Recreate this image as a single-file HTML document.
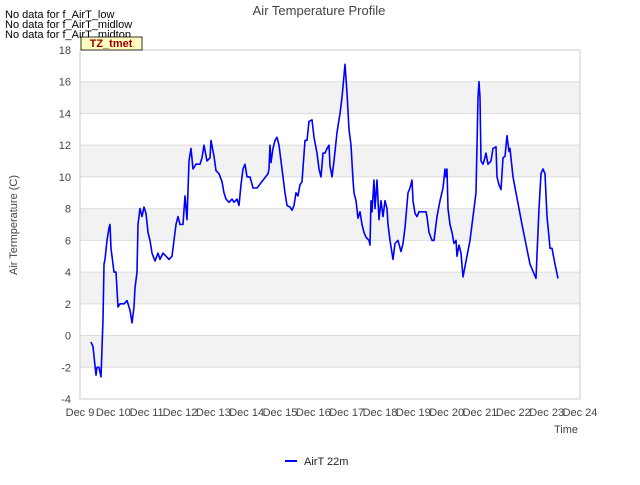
<!DOCTYPE html>
<html><head><meta charset="utf-8"><style>
body{margin:0;background:#fff;font-family:"Liberation Sans","DejaVu Sans",sans-serif}
</style></head><body>
<svg width="640" height="480" xmlns="http://www.w3.org/2000/svg" font-family="Liberation Sans, DejaVu Sans, sans-serif">
<g id="bands"></g>
<g id="grid"></g>
<rect x="80" y="50" width="500" height="349" fill="none" stroke="#ccc"/>
<g id="yt" font-size="11" fill="#444" text-anchor="end"></g>
<g id="xt" font-size="11" fill="#444" text-anchor="middle"></g>
<path id="line" fill="none" stroke="#0000ff" stroke-width="1.6" stroke-linejoin="round"/>
<text x="319" y="15" text-anchor="middle" font-size="13" fill="#444">Air Temperature Profile</text>
<text transform="translate(17,225) rotate(-90)" text-anchor="middle" font-size="11" fill="#444">Air Termperature (C)</text>
<text x="578" y="433" text-anchor="end" font-size="11" fill="#444">Time</text>
<text x="5" y="18" font-size="11" fill="#000">No data for f_AirT_low</text>
<text x="5" y="28" font-size="11" fill="#000">No data for f_AirT_midlow</text>
<text x="5" y="38" font-size="11" fill="#000">No data for f_AirT_midtop</text>
<rect x="81" y="37" width="61" height="13" fill="#ffffc0" stroke="#000" stroke-width="0.8"/>
<text x="111" y="47" text-anchor="middle" font-size="11" font-weight="bold" fill="#990000">TZ_tmet</text>
<line x1="285" y1="461" x2="297" y2="461" stroke="#0000ff" stroke-width="2"/>
<text x="304" y="465" font-size="11" fill="#222">AirT 22m</text>
</svg>
<script>
const days=[0.33,0.39,0.48,0.51,0.57,0.63,0.69,0.72,0.75,0.81,0.87,0.90,0.93,1.02,1.08,1.14,1.20,1.32,1.41,1.50,1.56,1.62,1.65,1.71,1.74,1.80,1.86,1.92,1.98,2.04,2.10,2.16,2.25,2.34,2.40,2.49,2.58,2.67,2.76,2.82,2.88,2.94,3.00,3.09,3.15,3.21,3.27,3.33,3.39,3.48,3.60,3.66,3.72,3.81,3.90,3.93,4.02,4.08,4.17,4.26,4.32,4.38,4.47,4.56,4.62,4.71,4.77,4.83,4.89,4.95,5.01,5.10,5.19,5.31,5.64,5.67,5.70,5.73,5.79,5.85,5.91,5.97,6.06,6.15,6.21,6.30,6.36,6.42,6.48,6.54,6.60,6.66,6.75,6.81,6.87,6.96,7.02,7.11,7.17,7.23,7.29,7.35,7.41,7.47,7.50,7.56,7.62,7.71,7.80,7.86,7.95,8.01,8.07,8.13,8.19,8.22,8.28,8.34,8.40,8.46,8.52,8.58,8.67,8.70,8.73,8.76,8.82,8.85,8.91,8.97,9.03,9.09,9.15,9.21,9.24,9.30,9.39,9.45,9.54,9.63,9.69,9.75,9.84,9.90,9.96,9.99,10.05,10.11,10.17,10.23,10.38,10.41,10.47,10.56,10.62,10.71,10.80,10.89,10.95,10.98,11.01,11.04,11.10,11.16,11.22,11.28,11.31,11.37,11.43,11.49,11.70,11.82,11.88,11.94,11.97,12.00,12.03,12.09,12.12,12.18,12.24,12.33,12.39,12.48,12.51,12.57,12.63,12.69,12.75,12.81,12.87,12.90,12.99,13.08,13.26,13.50,13.68,13.77,13.83,13.89,13.95,14.01,14.07,14.10,14.16,14.25,14.34];
const temps=[-0.4,-0.7,-2.5,-2.0,-2.0,-2.6,1.0,4.5,4.8,6.0,6.8,7.0,5.5,4.0,4.0,1.8,2.0,2.0,2.2,1.6,0.8,1.8,3.0,4.0,7.0,8.0,7.5,8.1,7.7,6.5,6.0,5.2,4.7,5.2,4.8,5.2,5.0,4.8,5.0,6.0,7.0,7.5,7.0,7.0,8.8,7.3,11.0,11.8,10.5,10.8,10.8,11.2,12.0,11.0,11.2,12.3,11.3,10.4,10.2,9.7,9.0,8.6,8.4,8.6,8.4,8.6,8.2,9.5,10.5,10.8,10.0,10.0,9.3,9.3,10.2,10.5,12.0,10.9,11.8,12.3,12.5,12.0,10.5,9.0,8.2,8.1,7.9,8.2,9.0,8.8,9.5,9.7,12.3,12.3,13.5,13.6,12.5,11.5,10.5,10.0,11.5,11.5,11.8,12.0,10.7,10.0,11.0,12.8,14.0,15.0,17.1,15.3,13.0,12.0,9.8,9.0,8.5,7.4,7.8,7.0,6.5,6.2,6.0,5.7,8.5,7.8,9.8,8.0,9.8,7.3,8.5,7.5,8.5,8.0,7.0,6.0,4.8,5.8,6.0,5.3,5.8,6.8,9.0,9.3,9.8,8.5,7.7,7.5,7.8,7.8,7.8,7.5,6.5,6.0,6.0,7.5,8.5,9.3,10.5,10.0,10.5,8.0,7.0,6.5,5.8,6.0,5.0,5.7,5.2,3.7,6.0,8.0,9.0,15.0,16.0,15.0,11.0,10.8,11.0,11.5,10.8,11.0,11.8,11.9,10.0,9.5,9.2,11.2,11.3,12.6,11.6,11.8,10.0,9.0,7.0,4.5,3.6,8.0,10.2,10.5,10.2,7.5,6.2,5.5,5.5,4.5,3.6];
const yTicks=[-4,-2,0,2,4,6,8,10,12,14,16,18];
const xTickLabels=["Dec 9","Dec 10","Dec 11","Dec 12","Dec 13","Dec 14","Dec 15","Dec 16","Dec 17","Dec 18","Dec 19","Dec 20","Dec 21","Dec 22","Dec 23","Dec 24"];
const X0=80,X1=580,Y0=399,Y1=50,YMIN=-4,YMAX=18,DMAX=15;
function xs(d){return X0+(X1-X0)*d/DMAX;}
function ys(v){return Y0-(Y0-Y1)*(v-YMIN)/(YMAX-YMIN);}
const NS="http://www.w3.org/2000/svg";
const bands=document.getElementById('bands'),grid=document.getElementById('grid'),yt=document.getElementById('yt'),xt=document.getElementById('xt');
for(let i=0;i<yTicks.length-1;i++){
  const v=yTicks[i];
  if(((v+4)/2)%2===1){
    const r=document.createElementNS(NS,'rect');
    
    
    r.setAttribute('x',X0);r.setAttribute('width',X1-X0);
    r.setAttribute('y',ys(yTicks[i+1]));r.setAttribute('height',ys(v)-ys(yTicks[i+1]));
    r.setAttribute('fill','#f2f2f2');bands.appendChild(r);
  }
}
yTicks.forEach(v=>{
  const l=document.createElementNS(NS,'line');
  
  
  l.setAttribute('x1',X0);l.setAttribute('x2',X1);l.setAttribute('y1',ys(v));l.setAttribute('y2',ys(v));
  l.setAttribute('stroke','#dddddd');grid.appendChild(l);
  const t=document.createElementNS(NS,'text');
  
  
  t.setAttribute('x',71);t.setAttribute('y',ys(v)+4);t.textContent=v;yt.appendChild(t);
});
xTickLabels.forEach((s,i)=>{
  const t=document.createElementNS(NS,'text');
  
  
  t.setAttribute('x',xs(i));t.setAttribute('y',416);t.textContent=s;xt.appendChild(t);
});
document.getElementById('line').setAttribute('d',days.map((d,i)=>(i?'L':'M')+xs(d).toFixed(1)+','+ys(temps[i]).toFixed(1)).join(''));
</script>
</body></html>
